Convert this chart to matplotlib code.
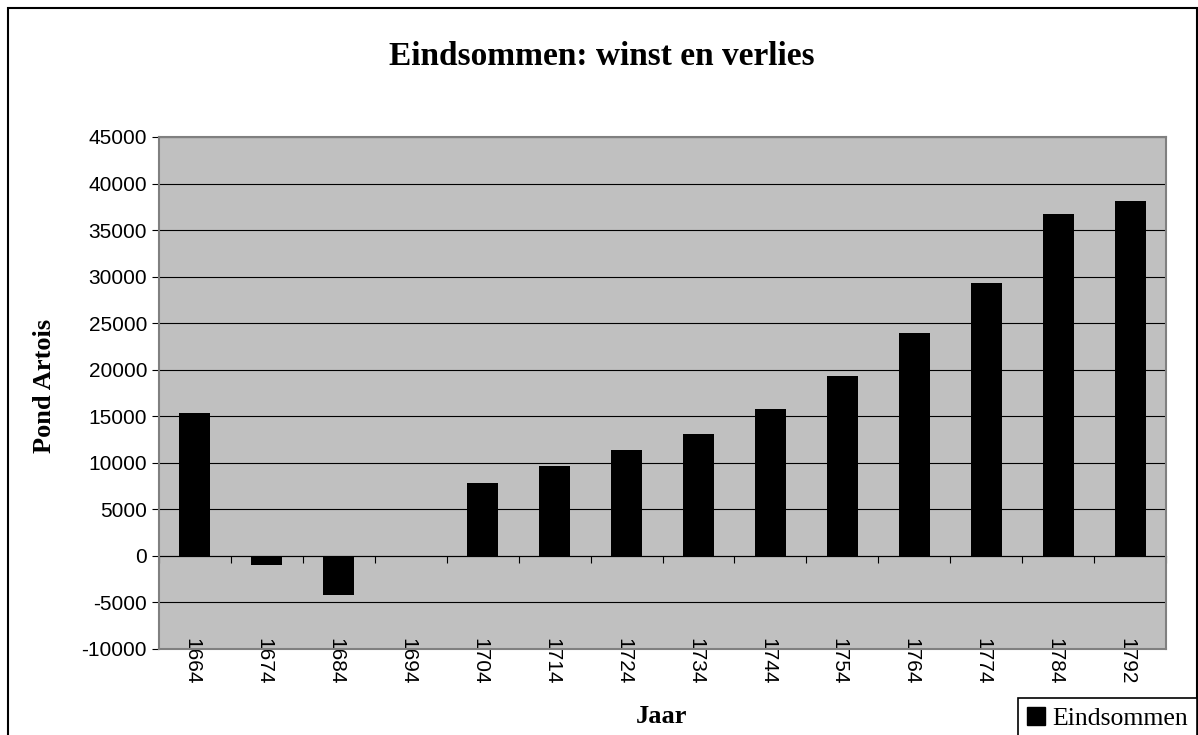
import numpy as np
import matplotlib
matplotlib.use("Agg")
import matplotlib.pyplot as plt
import matplotlib.transforms as mtrans
from matplotlib.patches import Patch, Rectangle

plt.rcParams['axes.unicode_minus'] = False

# data
years = ['1664', '1674', '1684', '1694', '1704', '1714', '1724',
         '1734', '1744', '1754', '1764', '1774', '1784', '1792']
values = [15400, -950, -4200, 0, 7800, 9700, 11400,
          13100, 15800, 19300, 23900, 29300, 36700, 38100]
yticks = list(range(-10000, 45001, 5000))

W, H = 1198, 735
fig = plt.figure(figsize=(W / 100, H / 100), dpi=100)
fig.patch.set_facecolor('white')

# outer chart border (bottom runs off the picture)
fig.patches.append(Rectangle((8 / W, -0.05), 1189 / W, 1 - 8 / H + 0.05,
                             transform=fig.transFigure, fill=False,
                             edgecolor='black', linewidth=1.5))

ax = fig.add_axes([159 / W, 1 - 649 / H, 1007 / W, 512 / H])
ax.set_facecolor('#c0c0c0')

x = np.arange(len(years))
ax.bar(x, values, width=0.43, color='black', linewidth=0, zorder=3)

ymin, ymax = -10000, 45000
ax.set_ylim(ymin, ymax)
ax.set_xlim(-0.5, len(years) - 0.5)

ax.set_yticks(yticks)
ax.yaxis.grid(True, color='black', linewidth=0.8, zorder=1)
ax.set_axisbelow(True)
ax.tick_params(axis='y', direction='out', length=5, width=0.8,
               color='black', pad=3.6, labelsize=15)
for t in ax.get_yticklabels():
    t.set_family('Liberation Sans')

ax.set_xticks(x)
ax.set_xticklabels(years, rotation=-90, family='Liberation Sans', fontsize=15)
ax.tick_params(axis='x', length=0, pad=-8)
# nudge rotated labels a little left so they sit centred under the bars
shift = mtrans.ScaledTranslation(-3 / 100, 0, fig.dpi_scale_trans)
for t in ax.get_xticklabels():
    t.set_transform(t.get_transform() + shift)

for s in ax.spines.values():
    s.set_color('#808080')
    s.set_linewidth(1.5)

# category axis crossing at zero, with tick marks between categories
zero_frac = (0 - ymin) / (ymax - ymin)
sec = ax.secondary_xaxis(zero_frac)
sec.set_xticks(np.arange(len(years) + 1) - 0.5)
sec.set_xticklabels([])
sec.tick_params(axis='x', direction='out', length=5, width=0.8, color='black')
sec.spines['bottom'].set_color('black')
sec.spines['bottom'].set_linewidth(0.8)

fig.text(602 / W, 1 - 65 / H, 'Eindsommen: winst en verlies',
         family='Liberation Serif', weight='bold', fontsize=24,
         ha='center', va='baseline')
fig.text(662 / W, 1 - 723 / H, 'Jaar', family='Liberation Serif',
         weight='bold', fontsize=19, ha='center', va='baseline')
fig.text(51 / W, 1 - 386 / H, 'Pond Artois', family='Liberation Serif',
         weight='bold', fontsize=19, rotation=90, rotation_mode='anchor',
         ha='center', va='baseline')

leg = fig.legend(handles=[Patch(facecolor='black', edgecolor='black')],
                 labels=['Eindsommen'], loc='upper left',
                 bbox_to_anchor=(1018 / W, 1 - 698 / H),
                 bbox_transform=fig.transFigure, borderaxespad=0,
                 fancybox=False, edgecolor='black', framealpha=1,
                 handlelength=0.7, handleheight=0.7, handletextpad=0.3,
                 borderpad=0.35, prop={'family': 'Liberation Serif', 'size': 18.5})
leg.get_frame().set_linewidth(1.2)

fig.savefig('out.png', dpi=100)
